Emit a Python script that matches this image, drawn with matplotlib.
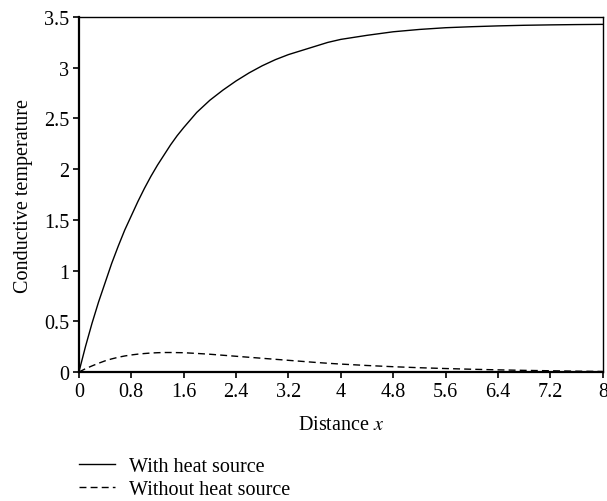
import matplotlib
matplotlib.use("Agg")
import matplotlib.pyplot as plt
import numpy as np

plt.rcParams['font.family'] = ['Liberation Serif', 'DejaVu Serif']
plt.rcParams['mathtext.fontset'] = 'stix'

# values
x = [0, 0.1, 0.2, 0.3, 0.4, 0.5, 0.6, 0.7, 0.8, 0.9, 1.0, 1.1, 1.2, 1.3, 1.4, 1.5,
     1.6, 1.8, 2.0, 2.2, 2.4, 2.6, 2.8, 3.0, 3.2, 3.4, 3.6, 3.8, 4.0, 4.4, 4.8,
     5.2, 5.6, 6.0, 6.4, 6.8, 7.2, 7.6, 8.0]
with_heat = [0, 0.25, 0.48, 0.69, 0.88, 1.07, 1.24, 1.40, 1.54, 1.68, 1.81, 1.93,
             2.04, 2.14, 2.24, 2.33, 2.41, 2.56, 2.68, 2.78, 2.87, 2.95, 3.02, 3.08,
             3.13, 3.17, 3.21, 3.25, 3.28, 3.32, 3.355, 3.378, 3.395, 3.405, 3.413,
             3.419, 3.423, 3.426, 3.428]
without_heat = [0, 0.032, 0.06, 0.086, 0.11, 0.129, 0.145, 0.158, 0.168, 0.176, 0.182,
                0.187, 0.19, 0.192, 0.192, 0.191, 0.19, 0.183, 0.175, 0.165, 0.155,
                0.145, 0.135, 0.125, 0.115, 0.105, 0.095, 0.086, 0.078, 0.064, 0.052,
                0.042, 0.034, 0.027, 0.021, 0.016, 0.012, 0.008, 0.005]

xticks = [0, 0.8, 1.6, 2.4, 3.2, 4, 4.8, 5.6, 6.4, 7.2, 8]
xticklabels = ['0', '0.8', '1.6', '2.4', '3.2', '4', '4.8', '5.6', '6.4', '7.2', '8']
yticks = [0, 0.5, 1, 1.5, 2, 2.5, 3, 3.5]
yticklabels = ['0', '0.5', '1', '1.5', '2', '2.5', '3', '3.5']

fig = plt.figure(figsize=(6.07, 5.02), dpi=100)
ax = fig.add_axes([0.130, 0.257, 0.863, 0.707])

ax.plot(x, with_heat, color='black', lw=1.0, label='With heat source')
ax.plot(x, without_heat, color='black', lw=1.0, ls=(0, (5, 3)), label='Without heat source')

ax.set_xlim(0, 8)
ax.set_ylim(0, 3.5)
ax.set_xticks(xticks)
ax.set_xticklabels(xticklabels)
ax.set_yticks(yticks)
ax.set_yticklabels(yticklabels)
ax.tick_params(labelsize=14.5, direction='out', length=4, width=1.2, color='black', pad=3)

ax.spines['left'].set_linewidth(1.6)
ax.spines['bottom'].set_linewidth(1.6)
ax.spines['top'].set_linewidth(1.0)
ax.spines['right'].set_linewidth(1.0)

ax.set_xlabel('Distance $x$', fontsize=14.5, labelpad=10)
ax.set_ylabel('Conductive temperature', fontsize=14.5, labelpad=8)

fig.legend(loc='upper left', bbox_to_anchor=(0.0998, 1 - 440 / 502), frameon=False,
           fontsize=14.5, handlelength=1.8, handletextpad=0.7, labelspacing=0.2)

fig.savefig('out.png', dpi=100)
